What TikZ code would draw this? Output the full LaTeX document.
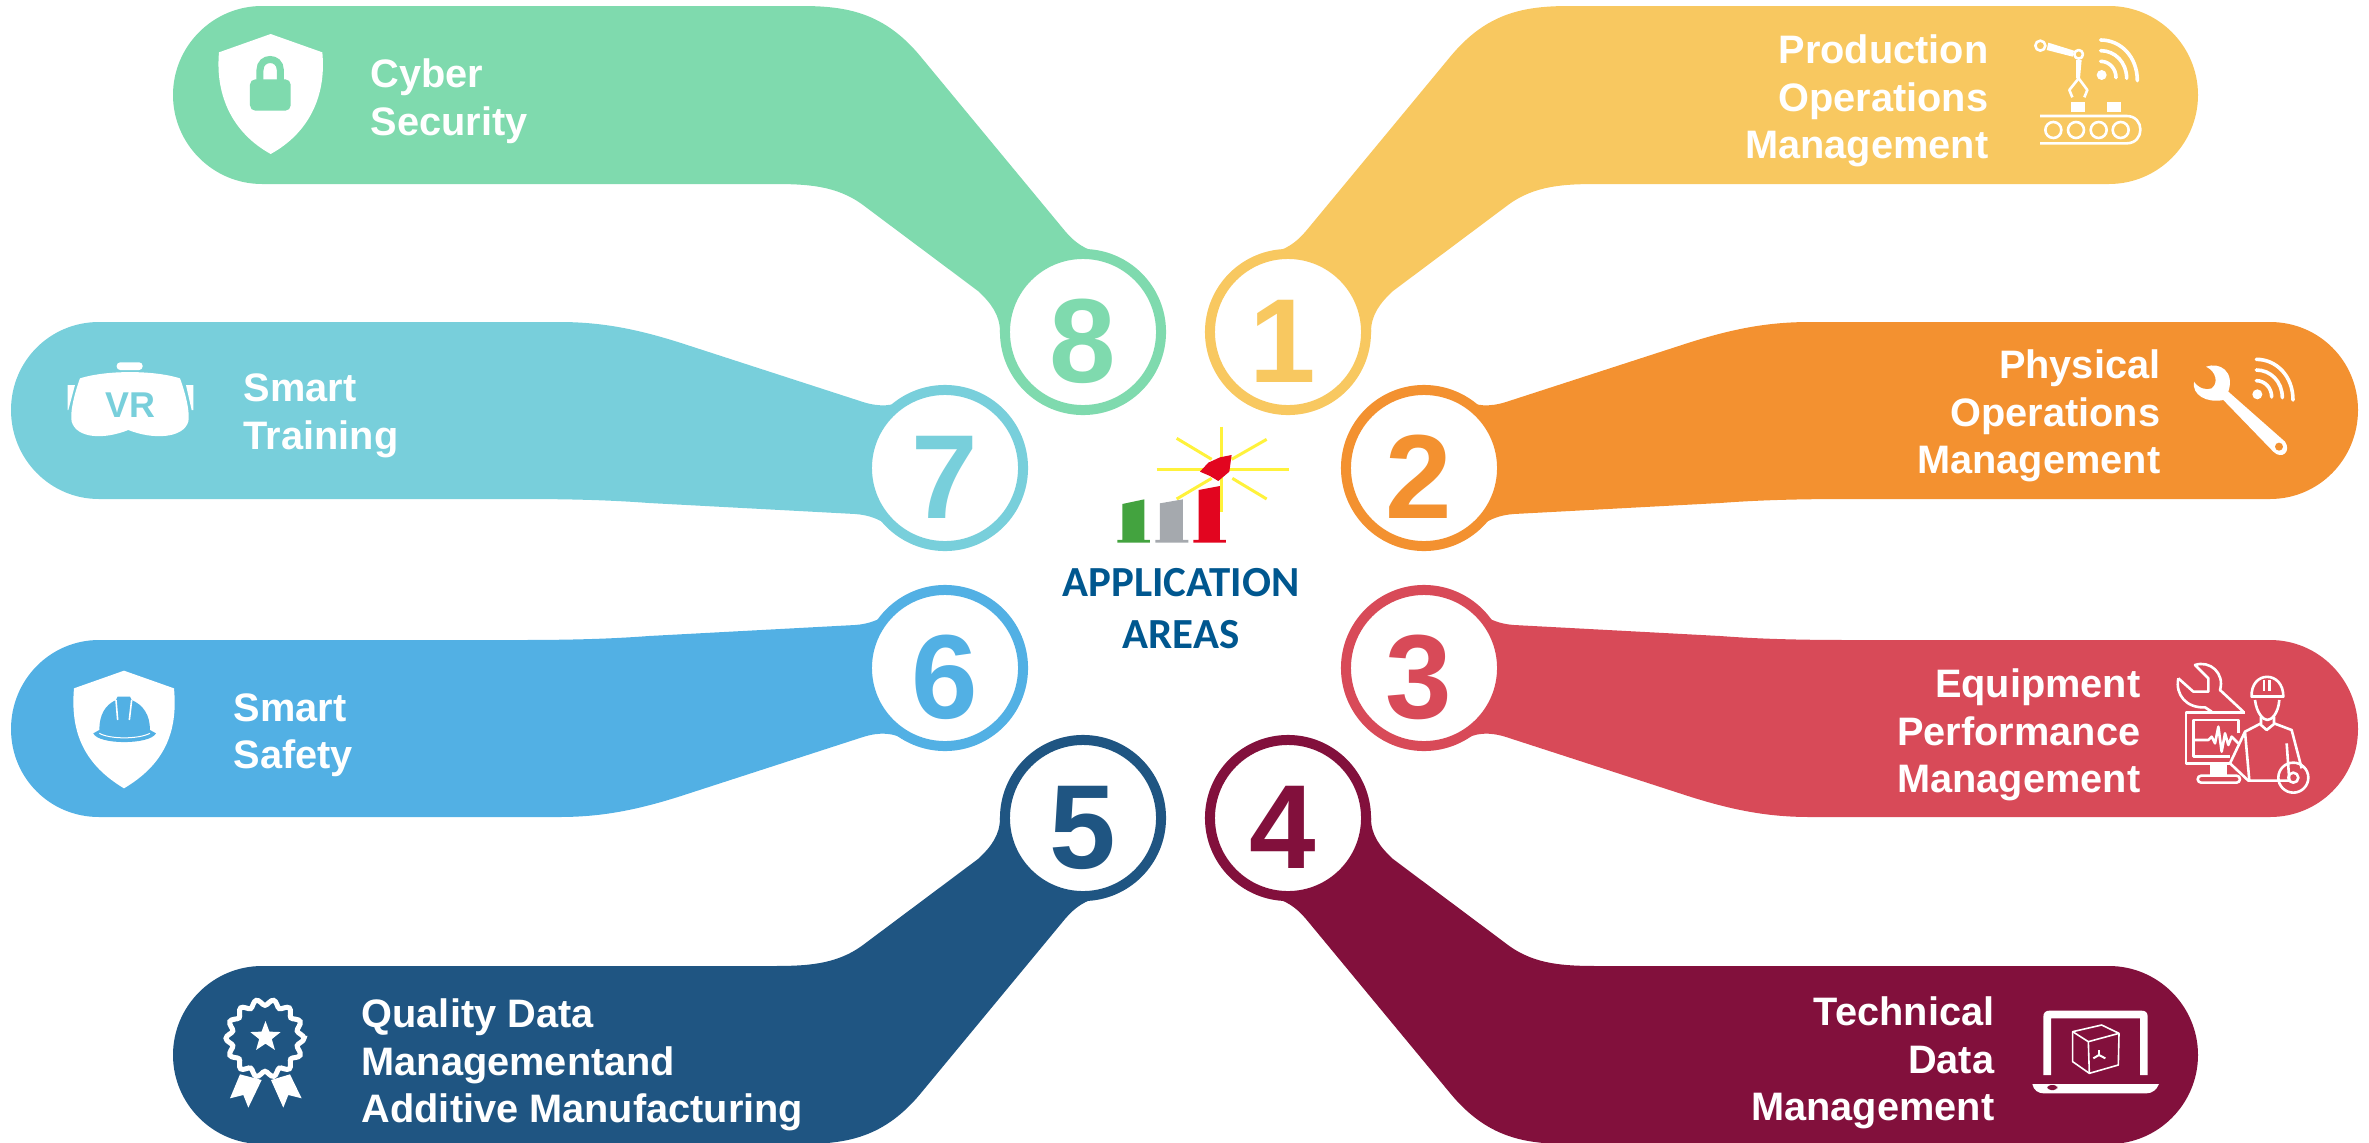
\documentclass[tikz,border=0pt]{standalone}
\usepackage{fontspec}
\setmainfont{Liberation Sans}
\newfontfamily\carlitofont{Carlito}
\usetikzlibrary{shapes.geometric}

\definecolor{goldblob}{HTML}{F8C860}
\definecolor{orangeblob}{HTML}{F39130}
\definecolor{redblob}{HTML}{D84A58}
\definecolor{maroonblob}{HTML}{82103C}
\definecolor{navyblob}{HTML}{1F5582}
\definecolor{skyblob}{HTML}{52B0E4}
\definecolor{tealblob}{HTML}{78CFDB}
\definecolor{mintblob}{HTML}{7FDAAE}
\definecolor{titleblue}{HTML}{00578F}
\definecolor{rayyellow}{HTML}{FFF23B}
\definecolor{bargreen}{HTML}{43A33F}
\definecolor{bargray}{HTML}{A5A9AE}
\definecolor{barred}{HTML}{E2051F}

\tikzset{
  numdisc/.style={circle, draw, fill=white, line width=0.1cm, minimum size=1.56cm, inner sep=0pt,
    font=\bfseries\fontsize{34}{34}\selectfont, text height=1cm, text depth=0pt},
  arealabel/.style={text=white, inner sep=0pt, font=\bfseries\fontsize{11.3}{13.5}\selectfont},
  ray/.style={rayyellow, line width=0.03cm},
  iconline/.style={white, line width=0.026cm, line join=round},
  wifiarc/.style={white, line width=0.036cm, line cap=round}
}

\newcommand{\longblob}{(2109,6) -- (1570,6) .. controls (1525,6) and (1487,12) .. (1450,57)
  -- (1306,231) .. controls (1296,243) and (1285,250) .. (1271,253) -- (1288,332) -- (1371,332)
  .. controls (1371,315) and (1380,303) .. (1393,291) -- (1508,205)
  .. controls (1535,185) and (1565,184) .. (1600,184) -- (2109,184)
  .. controls (2158,184) and (2198,144) .. (2198,95) .. controls (2198,46) and (2158,6) .. (2109,6) -- cycle}
\newcommand{\shortblob}{(2270,322) -- (1810,322) .. controls (1770,322) and (1735,328) .. (1688,343)
  -- (1506,402) .. controls (1490,407) and (1475,407) .. (1462,398) -- (1424,468) -- (1462,540)
  .. controls (1475,532) and (1485,516) .. (1514,514) -- (1720,503)
  .. controls (1760,500) and (1800,499) .. (1850,499) -- (2270,499)
  .. controls (2319,499) and (2358,459) .. (2358,410) .. controls (2358,361) and (2319,322) .. (2270,322) -- cycle}
\newcommand{\wifimark}{
  \fill[white] (0,0) circle (15);
  \draw[wifiarc] (-3,-41) .. controls (22,-41) and (43,-20) .. (43,8);
  \draw[wifiarc] (-3,-73) .. controls (40,-73) and (75,-38) .. (75,10);
  \draw[wifiarc] (-3,-105) .. controls (57,-105) and (107,-55) .. (107,17);
}

\begin{document}
\begin{tikzpicture}[x=0.01cm,y=-0.01cm]
\useasboundingbox (0,0) rectangle (2369,1142);

\fill[goldblob] \longblob;
\fill[orangeblob] \shortblob;
\begin{scope}[shift={(0,1139)},yscale=-1]
\fill[redblob] \shortblob;
\end{scope}
\begin{scope}[shift={(0,1150)},yscale=-1]
\fill[maroonblob] \longblob;
\end{scope}
\begin{scope}[shift={(2371,1150)},xscale=-1,yscale=-1]
\fill[navyblob] \longblob;
\end{scope}
\begin{scope}[shift={(2369,1139)},xscale=-1,yscale=-1]
\fill[skyblob] \shortblob;
\end{scope}
\begin{scope}[shift={(2369,0)},xscale=-1]
\fill[tealblob] \shortblob;
\end{scope}
\begin{scope}[shift={(2371,0)},xscale=-1]
\fill[mintblob] \longblob;
\end{scope}

\node (num1) [numdisc, draw=goldblob, text=goldblob] at (1288,332) {1\kern0.1cm};
\node (num2) [numdisc, draw=orangeblob, text=orangeblob] at (1424,468) {2\kern0.1cm};
\node (num3) [numdisc, draw=redblob, text=redblob] at (1424,668) {3\kern0.1cm};
\node (num4) [numdisc, draw=maroonblob, text=maroonblob] at (1288,818) {4\kern0.1cm};
\node (num5) [numdisc, draw=navyblob, text=navyblob] at (1083,818) {5};
\node (num6) [numdisc, draw=skyblob, text=skyblob] at (945,668) {6};
\node (num7) [numdisc, draw=tealblob, text=tealblob] at (945,468) {7};
\node (num8) [numdisc, draw=mintblob, text=mintblob] at (1083,332) {8};

\node (area1) [arealabel, anchor=east, align=right] at (1989,101) {Production\\Operations\\Management};
\node (area2) [arealabel, anchor=east, align=right] at (2161,416) {Physical\\Operations\\Management};
\node (area3) [arealabel, anchor=east, align=right] at (2141,735) {Equipment\\Performance\\Management};
\node (area4) [arealabel, anchor=east, align=right] at (1995,1063) {Technical\\Data\\Management};
\node (area5) [arealabel, anchor=west, align=left] at (361,1065) {Quality Data\\Managementand\\Additive Manufacturing};
\node (area6) [arealabel, anchor=west, align=left] at (233,735) {Smart\\Safety};
\node (area7) [arealabel, anchor=west, align=left] at (243,416) {Smart\\Training};
\node (area8) [arealabel, anchor=west, align=left] at (370,101) {Cyber\\Security};

\begin{scope}[shift={(1000,400)},scale=0.3333]
\draw[ray] (470,207) -- (868,207);
\draw[ray] (664,80) -- (664,335);
\draw[ray] (530,115) -- (635,178);
\draw[ray] (800,118) -- (695,178);
\draw[ray] (530,297) -- (635,235);
\draw[ray] (800,297) -- (697,235);
\fill[barred] (600,215) -- (625,188) -- (660,172) -- (695,165) -- (688,215) -- (655,243) -- (630,228) -- cycle;
\fill[bargreen] (367,420) -- (367,312) -- (433,298) -- (433,420) -- (450,420) -- (450,428) -- (352,428) -- (352,420) -- cycle;
\fill[bargray] (480,420) -- (480,310) -- (549,298) -- (549,420) -- (565,420) -- (565,428) -- (466,428) -- (466,420) -- cycle;
\fill[barred] (596,420) -- (596,270) -- (660,258) -- (660,420) -- (678,420) -- (678,428) -- (580,428) -- (580,420) -- cycle;
\end{scope}
\node (title) [text=titleblue, align=center, inner sep=0pt, font=\carlitofont\bfseries\fontsize{12.2}{14.8}\selectfont] at (1181,609) {APPLICATION\\AREAS};

\begin{scope}[shift={(2000,10)},scale=0.3333]
\draw[iconline] (121,107) circle (15);
\draw[iconline] (236,133) circle (13);
\fill[white] (145,98) -- (222,122) -- (218,140) -- (140,120) -- cycle;
\fill[white] (228,150) -- (245,150) -- (240,205) -- (228,205) -- cycle;
\draw[iconline] (236,205) -- (208,240) -- (217,262);
\draw[iconline] (236,205) -- (262,240) -- (253,262);
\fill[white] (213,275) rectangle (256,305);
\fill[white] (321,275) rectangle (362,305);
\draw[iconline] (120,318) -- (380,318) .. controls (435,318) and (435,400) .. (380,400) -- (120,400);
\draw[iconline] (160,360) circle (24);
\draw[iconline] (228,360) circle (24);
\draw[iconline] (296,360) circle (24);
\draw[iconline] (362,360) circle (24);
\begin{scope}[shift={(305,195)}]
\wifimark
\end{scope}
\end{scope}

\begin{scope}[shift={(2170,320)},scale=0.3333]
\fill[white] (108,140) .. controls (150,125) and (195,155) .. (175,215) -- (345,365)
  .. controls (365,395) and (335,420) .. (310,395) -- (160,240)
  .. controls (110,250) and (65,225) .. (72,185) .. controls (85,205) and (110,212) .. (125,205)
  .. controls (145,190) and (140,155) .. (108,140) -- cycle;
\fill[orangeblob] (327,380) circle (12);
\begin{scope}[shift={(262,223)}]
\wifimark
\end{scope}
\end{scope}

\begin{scope}[shift={(2130,620)},scale=0.3333]
\draw[iconline] (145,175) .. controls (135,225) and (170,265) .. (225,262) -- (245,275);
\draw[iconline] (145,175) -- (190,215) -- (235,215) -- (235,175) -- (195,135)
  .. controls (240,120) and (285,160) .. (270,210) -- (340,275);
\draw[iconline] (345,278) -- (168,278) -- (168,430) -- (300,430);
\draw[iconline] (325,340) -- (325,300) -- (190,300) -- (190,410) -- (300,410);
\fill[white] (240,430) rectangle (290,467);
\draw[iconline, rounded corners=1pt] (203,467) rectangle (330,488);
\draw[iconline] (195,360) -- (235,360) -- (245,350) -- (255,370) -- (265,320) -- (275,395) -- (285,340) -- (295,375) -- (305,350) -- (325,370);
\draw[iconline] (365,232) .. controls (360,150) and (462,150) .. (460,232);
\draw[iconline] (362,230) -- (462,230);
\draw[iconline] (402,180) -- (402,212);
\draw[iconline] (418,180) -- (418,212);
\draw[iconline] (375,240) .. controls (380,280) and (400,300) .. (412,300) .. controls (425,300) and (445,280) .. (448,240);
\draw[iconline] (393,290) -- (393,315) -- (410,330) -- (432,312) -- (432,290);
\draw[iconline] (393,310) -- (345,335) -- (300,430) -- (355,482) -- (478,482) -- (470,370);
\draw[iconline] (345,335) -- (358,482);
\draw[iconline] (432,310) -- (485,330) -- (515,445);
\draw[iconline] (490,473) circle (45);
\draw[iconline] (490,473) circle (15);
\end{scope}

\begin{scope}[shift={(2000,990)},scale=0.3333]
\fill[white] (130,255) -- (130,80) .. controls (130,68) and (137,62) .. (148,62) -- (425,62) .. controls (437,62) and (443,68) .. (443,80) -- (443,255) -- (420,255) -- (420,85) -- (153,85) -- (153,255) -- cycle;
\fill[white] (97,282) -- (477,282) .. controls (470,300) and (455,310) .. (440,310) -- (130,310) .. controls (115,310) and (100,300) .. (97,282) -- cycle;
\fill[maroonblob, rounded corners=1pt] (142,285) rectangle (172,300);
\draw[white, line width=0.016cm, line join=round] (218,125) -- (305,105) -- (357,130) -- (355,225) -- (268,250) -- (218,215) -- cycle;
\draw[white, line width=0.016cm] (218,125) -- (265,155) -- (357,130);
\draw[white, line width=0.016cm] (265,155) -- (268,250);
\draw[white, line width=0.02cm] (297,195) -- (297,180);
\draw[white, line width=0.02cm] (297,195) -- (280,205);
\draw[white, line width=0.02cm] (297,195) -- (316,205);
\end{scope}

\begin{scope}[shift={(200,980)},scale=0.3333]
\draw[white, line width=0.05cm] plot[domain=0:360, samples=113, smooth] ({195+(108+9*cos(14*\x))*cos(\x)},{175+(108+9*cos(14*\x))*sin(\x)}) -- cycle;
\fill[white] (120,283) -- (185,300) -- (145,383) -- (130,345) -- (90,355) -- cycle;
\fill[white] (270,283) -- (213,300) -- (250,383) -- (265,345) -- (305,355) -- cycle;
\end{scope}
\node (medalstar) [star, star points=5, star point ratio=2.4, fill=white, minimum size=0.32cm, inner sep=0pt] at (265.5,1037) {};

\begin{scope}[shift={(50,650)},scale=0.3333]
\fill[white] (222,62) -- (372,115) .. controls (385,250) and (340,345) .. (222,415) .. controls (105,345) and (60,250) .. (72,115) -- cycle;
\fill[skyblob] (130,250) .. controls (145,285) and (300,285) .. (318,250) -- (300,240) .. controls (300,195) and (280,165) .. (245,150) -- (240,140) -- (203,140) -- (198,150) .. controls (165,165) and (148,195) .. (148,240) -- cycle;
\draw[white, line width=0.016cm] (198,150) -- (203,210);
\draw[white, line width=0.016cm] (245,150) -- (238,210);
\draw[white, line width=0.01cm] (148,250) .. controls (180,268) and (265,268) .. (300,250);
\end{scope}

\begin{scope}[shift={(40,340)},scale=0.3333]
\fill[white] (120,115) .. controls (200,90) and (340,90) .. (420,115) .. controls (440,170) and (450,220) .. (445,245) .. controls (430,295) and (340,300) .. (265,270) .. controls (190,300) and (110,295) .. (95,245) .. controls (90,220) and (100,170) .. (120,115) -- cycle;
\fill[white, rounded corners=1pt] (230,67) rectangle (308,90);
\fill[white] (83,135) -- (105,135) -- (85,210) -- (83,210) -- cycle;
\fill[white] (438,135) -- (460,135) -- (460,210) -- (455,210) -- cycle;
\end{scope}
\node (vrmark) [text=tealblob, inner sep=0pt, font=\bfseries\fontsize{10.2}{10.2}\selectfont] at (130,405) {VR};

\begin{scope}[shift={(200,20)},scale=0.3333]
\fill[white] (212,42) -- (367,97) .. controls (380,230) and (325,340) .. (212,402) .. controls (100,340) and (45,230) .. (57,97) -- cycle;
\fill[mintblob, rounded corners=1.5pt] (150,178) rectangle (272,272);
\draw[mintblob, line width=0.07cm] (180,185) -- (180,150) .. controls (180,108) and (241,108) .. (241,150) -- (241,185);
\end{scope}
\end{tikzpicture}
\end{document}
